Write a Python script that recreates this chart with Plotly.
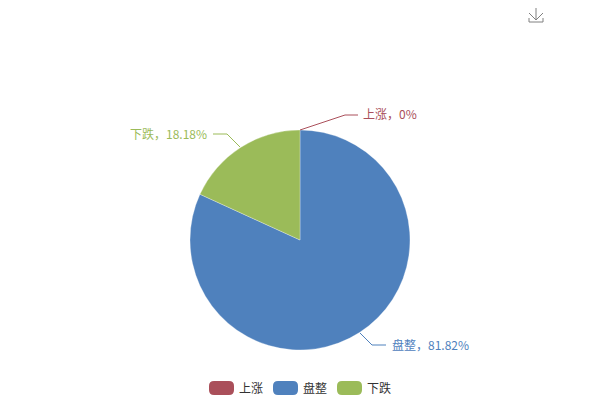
import plotly.graph_objects as go

categories = ['上涨', '盘整', '下跌']
values = [0, 81.82, 18.18]
colors = ['#AA4F5A', '#4F81BD', '#9BBB59']

W, H = 600, 400
FONT = 'Noto Sans CJK SC'

# label anchor and leader line for each slice, in page pixels
label_pos = [(361, 114, 'left'), (390, 344, 'left'), (209, 133, 'right')]
leaders = [
    [(300, 130), (345, 115), (358, 115)],
    [(360, 333), (372, 345), (386, 345)],
    [(240, 147), (227, 134), (213, 134)],
]
legend_x = [209, 273, 337]


def px(x):
    return x / W


def py(y):
    return 1 - y / H


def poly(points):
    return 'M' + ' L'.join(f'{px(x)},{py(y)}' for x, y in points)


def rounded(x0, y0, x1, y1, r):
    k = [
        (x0 + r, y0), (x1 - r, y0), (x1, y0), (x1, y0 + r),
        (x1, y1 - r), (x1, y1), (x1 - r, y1), (x0 + r, y1),
        (x0, y1), (x0, y1 - r), (x0, y0 + r), (x0, y0),
    ]
    p = [f'{px(a)},{py(b)}' for a, b in k]
    return (f'M{p[0]} L{p[1]} Q{p[2]} {p[3]} L{p[4]} Q{p[5]} {p[6]} '
            f'L{p[7]} Q{p[8]} {p[9]} L{p[10]} Q{p[11]} {p[0]} Z')


fig = go.Figure(go.Pie(
    labels=categories,
    values=values,
    sort=False,
    direction='clockwise',
    rotation=0,
    textinfo='none',
    hoverinfo='label+percent',
    marker=dict(colors=colors, line=dict(color='#ffffff', width=0.3)),
    domain=dict(x=[px(190), px(410)], y=[py(350), py(130)]),
    showlegend=False,
))

shapes = []
annotations = []
for i, name in enumerate(categories):
    lx, ly, anchor = label_pos[i]
    annotations.append(dict(
        x=px(lx), y=py(ly), xref='paper', yref='paper',
        text=f'{name}，{values[i]:g}%',
        showarrow=False, xanchor=anchor, yanchor='middle',
        font=dict(family=FONT, size=12, color=colors[i]),
    ))
    shapes.append(dict(type='path', path=poly(leaders[i]), xref='paper', yref='paper',
                       line=dict(color=colors[i], width=1)))
    # legend swatch and text
    x = legend_x[i]
    shapes.append(dict(type='path', path=rounded(x, 381, x + 25, 395, 5), xref='paper', yref='paper',
                       fillcolor=colors[i], line=dict(width=0)))
    annotations.append(dict(
        x=px(x + 28), y=py(387), xref='paper', yref='paper',
        text=name, showarrow=False, xanchor='left', yanchor='middle',
        font=dict(family=FONT, size=12, color='#333333'),
    ))

# save icon, top right
for pts in [[(536, 8), (536, 19)], [(529, 13), (536, 20), (543, 13)], [(529, 18), (529, 22), (543, 22), (543, 18)]]:
    shapes.append(dict(type='path', path=poly(pts), xref='paper', yref='paper',
                       line=dict(color='#808080', width=1)))

fig.update_layout(
    width=W, height=H,
    margin=dict(l=0, r=0, t=0, b=0),
    paper_bgcolor='#ffffff',
    shapes=shapes,
    annotations=annotations,
)

# page default margin would push the chart 8px off
fig.write_html('out.html', config=dict(displayModeBar=False),
               post_script="document.body.style.margin='0';document.body.style.overflow='hidden';")
